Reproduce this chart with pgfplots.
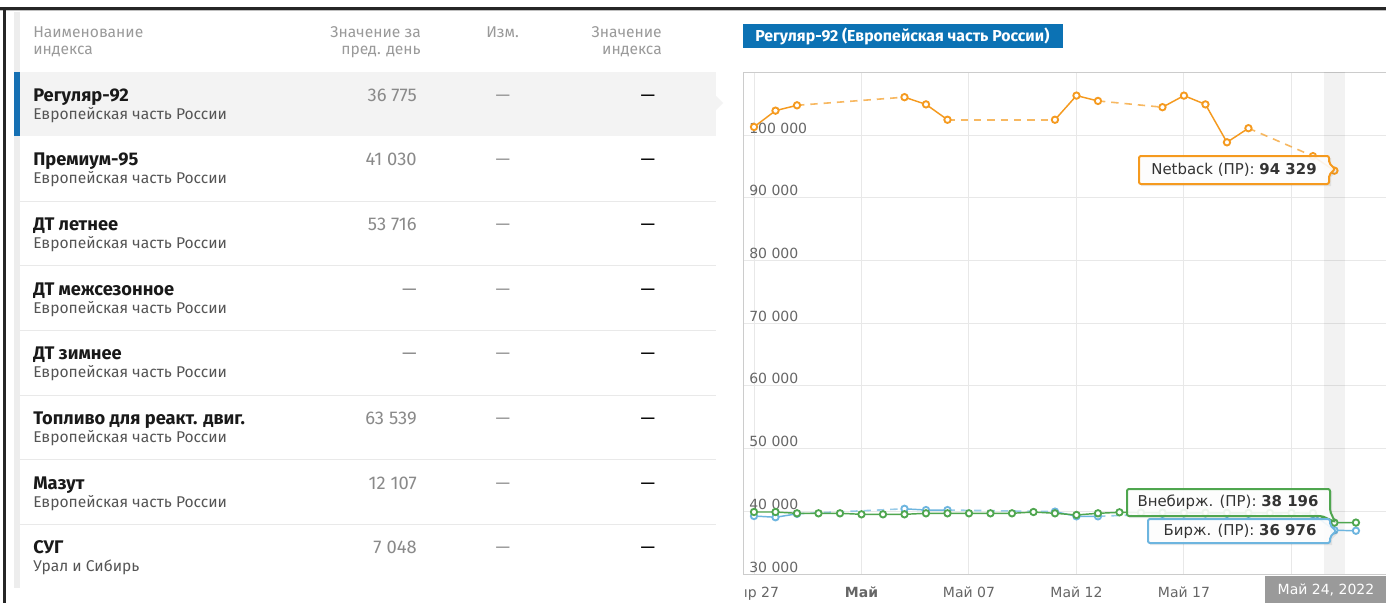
\documentclass[border=0pt]{standalone}
\usepackage{fontspec}
\setmainfont{Fira Sans}
\newfontfamily\chartfont{DejaVu Sans}
\usepackage{pgfplots}
\pgfplotsset{compat=1.18}
\definecolor{ora}{HTML}{F59A1F}
\definecolor{grn}{HTML}{4FA64F}
\definecolor{blu}{HTML}{6DB5DF}
\definecolor{badge}{HTML}{0C72B4}
\definecolor{selbar}{HTML}{1670B3}
\definecolor{selbg}{HTML}{F3F3F3}
\definecolor{sep}{HTML}{E9E9E9}
\definecolor{hdr}{HTML}{9A9A9A}
\definecolor{val}{HTML}{8A8A8A}
\definecolor{subc}{HTML}{555555}
\definecolor{gridc}{HTML}{E8E8E8}
\definecolor{framec}{HTML}{CCCCCC}
\definecolor{tickc}{HTML}{666666}
\definecolor{tiptxt}{HTML}{333333}
\definecolor{datebox}{HTML}{9A9A9A}
\pgfplotsset{
  ser/.style={line width=1.1pt, mark=*, mark size=2.4pt,
    mark options={solid, fill=white, line width=1.4pt}},
  gap/.style={line width=1.2pt, no marks, dash pattern=on 5.5pt off 4.5pt, draw opacity=0.7},
}
\newcommand\fs[1]{\fontsize{#1}{#1}\selectfont}

\begin{document}
\begin{tikzpicture}
% page 1386 x 603 px, 1 px = 0.75 pt
\path[use as bounding box, clip] (0pt,0pt) rectangle (1039.5pt,-452.25pt);
\fill[white] (0pt,0pt) rectangle (1039.5pt,-452.25pt);

\begin{scope}[x=0.75pt, y=-0.75pt, every node/.style={inner sep=0pt}]
  % frame of the page
  \fill[black!85] (0,7) rectangle (1386,9.5);
  \fill[black!25] (0,9.5) rectangle (1386,10.5);
  \fill[black!85] (3,7) rectangle (5.5,603);
  % table
  \fill[black!7] (14,12) rectangle (19.5,588);
  \fill[selbg] (19.5,72) rectangle (716,136);
  \fill[selbg] (716,96) -- (723,103) -- (716,110) -- cycle;
  \fill[selbar] (14,72) rectangle (19.5,136);
  \foreach \yy in {201,265,330,395,459,524}
    \fill[sep] (19.5,\yy-0.5) rectangle (716,\yy+0.5);
  % header
  \begin{scope}[every node/.append style={text=hdr, font=\fs{11.7}}]
    \node[anchor=base west] at (33,37) {Наименование};
    \node[anchor=base west] at (33,54) {индекса};
    \node[anchor=base east] at (421,37) {Значение за};
    \node[anchor=base east] at (421,54) {пред. день};
    \node[anchor=base west] at (486,37) {Изм.};
    \node[anchor=base east] at (662,37) {Значение};
    \node[anchor=base east] at (662,54) {индекса};
  \end{scope}
  % rows
  \foreach \nm/\sb/\vl [count=\i from 0] in {
      Регуляр-92/Европейская часть России/36 775,
      Премиум-95/Европейская часть России/41 030,
      ДТ летнее/Европейская часть России/53 716,
      ДТ межсезонное/Европейская часть России/—,
      ДТ зимнее/Европейская часть России/—,
      Топливо для реакт. двиг./Европейская часть России/63 539,
      Мазут/Европейская часть России/12 107,
      СУГ/Урал и Сибирь/7 048} {
    \pgfmathsetmacro\yb{101+64.7*\i}
    \pgfmathsetmacro\ys{119+64.7*\i}
    \node[anchor=base west, font=\bfseries\fs{13.7}, text=black!90] at (33,\yb) {\nm};
    \node[anchor=base west, font=\fs{11.7}, text=subc] at (33,\ys) {\sb};
    \node[anchor=base east, font=\fs{13.8}, text=val] at (417,\yb) {\vl};
    \node[anchor=base, font=\fs{13.8}, text=hdr] at (503,\yb) {—};
    \node[anchor=base, font=\fs{13.8}, text=black] at (648,\yb) {—};
  }
  % chart title badge
  \fill[badge] (743,24) rectangle (1063,48);
  \node[anchor=base west, text=white, font=\bfseries\fs{11.9}] at (755,41)
    {Регуляр-92 (Европейская часть России)};
\end{scope}

\begin{axis}[
  at={(557.25pt,-430.5pt)}, anchor=south west, scale only axis,
  width=492.75pt, height=376.2pt,
  xmin=-0.5116, xmax=30.05, ymin=30000, ymax=110000,
  scaled ticks=false,
  xtick={0,5,10,15,20,25},
  xticklabels={Апр 27,\textbf{Май},Май 07,Май 12,Май 17,{}},
  ytick={30000,40000,50000,60000,70000,80000,90000,100000},
  yticklabels={30 000,40 000,50 000,60 000,70 000,80 000,90 000,100 000},
  xmajorgrids, ymajorgrids, grid style={gridc, line width=0.75pt},
  major tick length=0pt,
  axis line style={framec, line width=0.75pt},
  tick label style={font=\chartfont\fs{10.5}, text=tickc, inner sep=0pt},
  yticklabel style={anchor=base west, xshift=4.5pt, yshift=1.5pt},
  xticklabel style={anchor=base, yshift=-17.25pt},
]
% hover band at May 24
\fill[black, fill opacity=0.05] (axis cs:26.5,30000) rectangle (axis cs:27.5,110000);

% Netback (orange): day index from Apr 27
\addplot[ora, gap, forget plot] coordinates {(2,104750) (7,106050)};
\addplot[ora, gap, forget plot] coordinates {(9,102450) (14,102450)};
\addplot[ora, gap, forget plot] coordinates {(16,105450) (19,104450)};
\addplot[ora, gap, forget plot] coordinates {(23,101100) (26,96650)};
\addplot[ora, ser] coordinates {(0,101300) (1,103900) (2,104750)};
\addplot[ora, ser] coordinates {(7,106050) (8,104900) (9,102450)};
\addplot[ora, ser] coordinates {(14,102450) (15,106300) (16,105450)};
\addplot[ora, ser] coordinates {(19,104450) (20,106300) (21,104900) (22,98850) (23,101100)};
\addplot[ora, ser] coordinates {(26,96650) (27,94329)};

% Birzh. (blue)
\addplot[blu, gap, forget plot] coordinates {(2,39600) (7,40400)};
\addplot[blu, gap, forget plot] coordinates {(9,40200) (14,39950)};
\addplot[blu, gap, forget plot] coordinates {(16,39200) (19,39600)};
\addplot[blu, gap, forget plot] coordinates {(23,39600) (26,39550)};
\addplot[blu, ser] coordinates {(0,39250) (1,39050) (2,39600)};
\addplot[blu, ser] coordinates {(7,40400) (8,40200) (9,40200)};
\addplot[blu, ser] coordinates {(14,39950) (15,39200) (16,39200)};
\addplot[blu, ser] coordinates {(19,39600) (20,39650) (21,39650) (22,39600) (23,39600)};
\addplot[blu, ser] coordinates {(26,39550) (27,36976) (28,36900)};

% Vnebirzh. (green), every day
\addplot[grn, ser] coordinates {
  (0,39890) (1,39890) (2,39680) (3,39680) (4,39680) (5,39520) (6,39520)
  (7,39520) (8,39680) (9,39680) (10,39680) (11,39680) (12,39680) (13,39890)
  (14,39680) (15,39420) (16,39680) (17,39840) (18,39800) (19,39800) (20,39780)
  (21,39780) (22,39760) (23,39760) (24,39740) (25,39740) (26,39720) (27,38196)
  (28,38200)};
\end{axis}

\begin{scope}[x=0.75pt, y=-0.75pt, every node/.style={inner sep=0pt}]
  % tooltips
  \fill[black, opacity=0.08] (1141,158) -- (1331,158) -- (1331,165) -- (1337,171) -- (1331,177) -- (1331,186) -- (1141,186) -- cycle;
  \draw[ora, line width=1.5pt, fill=white, fill opacity=0.9, rounded corners=1.5pt]
    (1139,156) -- (1329,156) -- (1329,163) -- (1335,169) -- (1329,175) -- (1329,184) -- (1139,184) -- cycle;
  \node[text=tiptxt, font=\chartfont\fs{11.2}] at (1234,170) {Netback (ПР): \textbf{94 329}};

  \fill[black, opacity=0.08] (1129,491) -- (1332,491) -- (1332,513) -- (1337,524) -- (1324,518) -- (1129,518) -- cycle;
  \draw[grn, line width=1.5pt, fill=white, fill opacity=0.9, rounded corners=1.5pt]
    (1127,489) -- (1330,489) -- (1330,511) -- (1335,522) -- (1322,516) -- (1127,516) -- cycle;
  \node[text=tiptxt, font=\chartfont\fs{11.2}] at (1228,502.5) {Внебирж. (ПР): \textbf{38 196}};

  \fill[black, opacity=0.08] (1150,521) -- (1332,521) -- (1332,527) -- (1338,533) -- (1332,539) -- (1332,545) -- (1150,545) -- cycle;
  \draw[blu, line width=1.5pt, fill=white, fill opacity=0.9, rounded corners=1.5pt]
    (1148,519) -- (1330,519) -- (1330,525) -- (1336,531) -- (1330,537) -- (1330,543) -- (1148,543) -- cycle;
  \node[text=tiptxt, font=\chartfont\fs{11.2}] at (1240,531.5) {Бирж. (ПР): \textbf{36 976}};

  % crosshair date label and left clip of first x label
  \fill[datebox] (1265,576) rectangle (1400,603);
  \node[text=white, font=\chartfont\fs{10.5}] at (1326,589.5) {Май 24, 2022};
  \fill[white] (716,575.5) rectangle (744.5,603);
\end{scope}
\end{tikzpicture}
\end{document}
